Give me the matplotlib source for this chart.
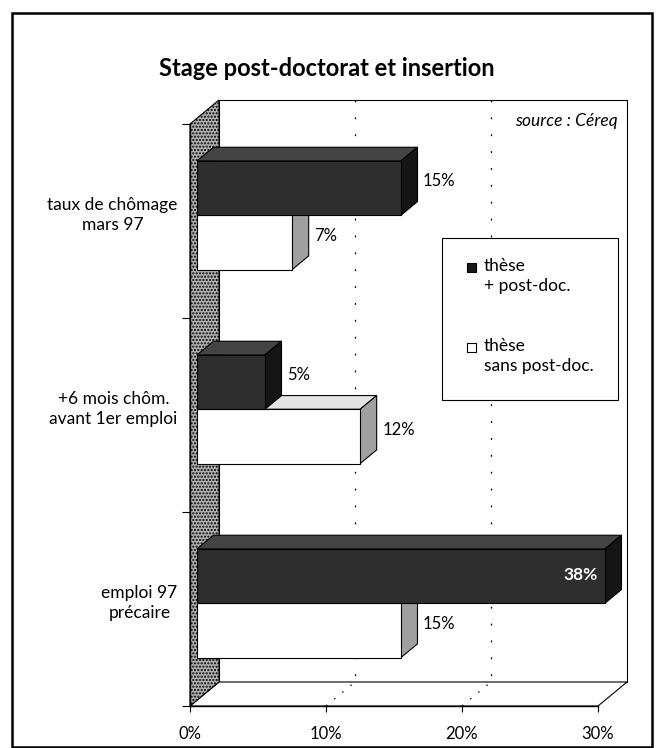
import matplotlib
matplotlib.use("Agg")
import matplotlib.pyplot as plt
from matplotlib.patches import Polygon, Rectangle

# ---------------- data ----------------
categories = ["taux de chômage\nmars 97", "+6 mois chôm.\navant 1er emploi", "emploi 97\nprécaire"]
series_names = ["thèse\n+ post-doc.", "thèse\nsans post-doc."]
with_postdoc = [15, 5, 38]
without_postdoc = [7, 12, 15]
x_ticks = [0, 10, 20, 30]
x_tick_labels = ["0%", "10%", "20%", "30%"]
title = "Stage post-doctorat et insertion"
source = "source : Céreq"

# ---------------- style ----------------
plt.rcParams['font.family'] = ['Lato', 'DejaVu Sans']
W, H = 658, 748
fig = plt.figure(figsize=(W / 100, H / 100), dpi=100)
fig.patch.set_facecolor("white")

def fx(px):
    return px / W

def fy(py):
    return 1 - py / H

# front plane of the 3-D box (pixels)
L, R, T, B = 190, 598, 124, 706
ax = fig.add_axes([fx(L), fy(B), (R - L) / W, (B - T) / H])
XMAX = x_ticks[-1]
n = len(categories)
ax.set_xlim(0, XMAX)
ax.set_ylim(n, 0)
ax.patch.set_visible(False)

# depth offset (pixels) converted to data units through the axes transform
DEPTH_PX = (29, 24)
p0 = ax.transData.transform((0, 0))
p1 = ax.transData.transform((1, 1))
sx = p1[0] - p0[0]
sy = p0[1] - p1[1]
DX = DEPTH_PX[0] / sx
DY = DEPTH_PX[1] / sy

def P(x, y, d):
    return (x + d * DX, y - d * DY)

def poly(pts, fc, ec="black", lw=0.8, z=2, **kw):
    ax.add_patch(Polygon(pts, closed=True, facecolor=fc, edgecolor=ec,
                         linewidth=lw, zorder=z, clip_on=False, **kw))

# back wall
poly([P(0, 0, 1), P(XMAX, 0, 1), P(XMAX, n, 1), P(0, n, 1)], "white", z=1)
# floor
poly([P(0, n, 0), P(XMAX, n, 0), P(XMAX, n, 1), P(0, n, 1)], "white", z=1)
# grid lines on back wall and floor
for t in x_ticks[1:-1]:
    a, b = P(t, 0, 1), P(t, n, 1)
    ax.plot([a[0], b[0]], [a[1], b[1]], color="black", lw=0.9,
            linestyle=(0, (1.5, 12)), zorder=1.5, clip_on=False)
    c = P(t, n, 0)
    ax.plot([c[0], b[0]], [c[1], b[1]], color="black", lw=0.8,
            linestyle=(0, (1.5, 8)), zorder=1.5, clip_on=False)
# left wall
poly([P(0, 0, 0), P(0, n, 0), P(0, n, 1), P(0, 0, 1)], "#b0b0b0", z=1.6,
     hatch=".....")

# bars
BAR_W = 0.28
D0, D1 = 0.24, 0.81

def bar(v, y0, y1, front, top, side):
    x1 = min(v, XMAX)
    poly([P(0, y0, D0), P(x1, y0, D0), P(x1, y0, D1), P(0, y0, D1)], top, z=3)
    poly([P(x1, y0, D0), P(x1, y0, D1), P(x1, y1, D1), P(x1, y1, D0)], side, z=3)
    poly([P(0, y0, D0), P(x1, y0, D0), P(x1, y1, D0), P(0, y1, D0)], front, z=3)

label_kw = dict(textcoords="offset points", va="center",
                annotation_clip=False, zorder=6)

for i in range(n):
    yc = i + 0.5
    # order: lower (white) bar first, upper (dark) bar on top
    for v, y0, y1, cols in [
        (without_postdoc[i], yc, yc + BAR_W, ("white", "#e4e4e4", "#a0a0a0")),
        (with_postdoc[i], yc - BAR_W, yc, ("#2e2e2e", "#444444", "#151515")),
    ]:
        bar(v, y0, y1, *cols)
        ym = (y0 + y1) / 2
        if v > XMAX:
            xy = P(XMAX, ym, D0)
            ax.annotate(f"{v}%", xy=xy, xytext=(-5, 1), ha="right",
                        color="white", fontweight="bold", fontsize=12.5,
                        **label_kw)
        else:
            xr = P(v, ym, D1)[0]
            yl = P(v, ym, (D0 + D1) / 2)[1]
            ax.annotate(f"{v}%", xy=(xr, yl), xytext=(4, 0), ha="left",
                        color="black", fontsize=12, **label_kw)

# category labels
for i, c in enumerate(categories):
    ax.annotate(c, xy=(0, i + 0.5), xytext=(-9, 4), textcoords="offset points",
                ha="right", va="center", multialignment="center", fontsize=12.5,
                linespacing=1.3, annotation_clip=False)

# axes: ticks and spines
for s in ["top", "right"]:
    ax.spines[s].set_visible(False)
for s in ["left", "bottom"]:
    ax.spines[s].set_linewidth(1.0)
    ax.spines[s].set_zorder(4)
ax.set_xticks(x_ticks)
ax.set_xticklabels(x_tick_labels, fontsize=12)
ax.set_yticks(range(n + 1))
ax.set_yticklabels([])
ax.tick_params(axis="x", direction="out", length=4.5, width=0.8, pad=10)
ax.tick_params(axis="y", direction="out", length=6, width=0.8)

# title and source
fig.text(fx(327), fy(68), title, ha="center", va="center", fontsize=17,
         fontweight="bold")
fig.text(fx(618), fy(121), source, ha="right", va="center", fontsize=12.5,
         style="italic")

# legend box (manual)
fig.add_artist(Rectangle((fx(442), fy(400)), fx(618) - fx(442), fy(238) - fy(400),
                         transform=fig.transFigure, facecolor="white",
                         edgecolor="black", linewidth=0.8, zorder=5))
leg_cols = ["#1a1a1a", "white"]
leg_y = [268, 348]
for name, col, yy in zip(series_names, leg_cols, leg_y):
    fig.add_artist(Rectangle((fx(467), fy(yy + 4)), 9 / W, 9 / H,
                             transform=fig.transFigure, facecolor=col,
                             edgecolor="black", linewidth=0.8, zorder=6))
    fig.text(fx(484), fy(yy - 10), name, ha="left", va="top", fontsize=12.5,
             linespacing=1.3, zorder=6)

# outer frame
fig.add_artist(Rectangle((fx(12), fy(747)), fx(652) - fx(12), fy(13) - fy(747),
                         transform=fig.transFigure, facecolor="none",
                         edgecolor="black", linewidth=1.8, zorder=10))

fig.savefig("out.png", dpi=100, facecolor="white")
